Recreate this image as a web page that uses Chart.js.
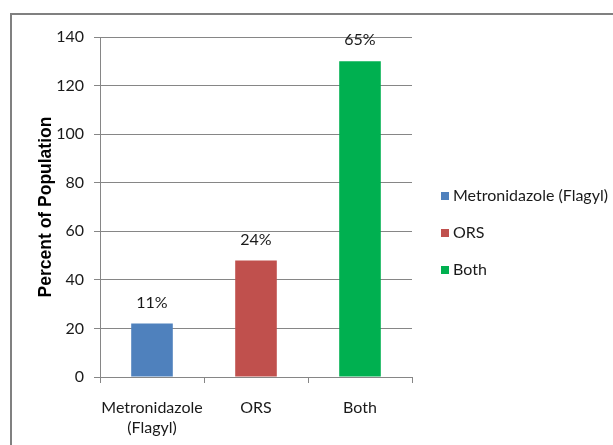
<!DOCTYPE html>
<html>
<head>
<meta charset="utf-8">
<script src="https://cdn.jsdelivr.net/npm/chart.js@4/dist/chart.umd.min.js"></script>
<style>
html,body{margin:0;padding:0;background:#fff;}
#wrap{position:relative;width:613px;height:445px;}
</style>
</head>
<body>
<div id="wrap"><canvas id="c" width="613" height="445"></canvas></div>
<script>
const categories = [['Metronidazole', '(Flagyl)'], 'ORS', 'Both'];
const seriesNames = ['Metronidazole (Flagyl)', 'ORS', 'Both'];
const seriesValues = [22, 48, 130];
const valueLabels = ['11%', '24%', '65%'];
const yTicks = [0, 20, 40, 60, 80, 100, 120, 140];
const colors = ['#4F81BD', '#C0504D', '#00B050'];

const FONT = 'Lato, "Open Sans", sans-serif';
const TITLE_FONT = '"Liberation Sans", Arial, sans-serif';
const TEXT_COLOR = '#1a1a1a';

const datasets = seriesNames.map((name, i) => ({
  label: name,
  data: seriesValues.map((v, j) => (j === i ? v : null)),
  backgroundColor: colors[i],
  borderWidth: 0,
  grouped: false,
  barPercentage: 0.4,
  categoryPercentage: 1.0
}));

const frame = {
  id: 'frame',
  beforeDraw(chart) {
    const ctx = chart.ctx;
    ctx.save();
    ctx.fillStyle = '#fff';
    ctx.fillRect(0, 0, chart.width, chart.height);
    ctx.strokeStyle = '#808080';
    ctx.lineWidth = 2;
    ctx.strokeRect(11, 14, 800, 600);
    ctx.restore();
  }
};

const valueLabelPlugin = {
  id: 'valueLabels',
  afterDatasetsDraw(chart) {
    const ctx = chart.ctx;
    ctx.save();
    ctx.font = '16px ' + FONT;
    ctx.fillStyle = TEXT_COLOR;
    ctx.textAlign = 'center';
    ctx.textBaseline = 'middle';
    chart.data.datasets.forEach((ds, i) => {
      const meta = chart.getDatasetMeta(i);
      meta.data.forEach((el, j) => {
        if (ds.data[j] == null) return;
        ctx.fillText(valueLabels[j], el.x, el.y - 21);
      });
    });
    ctx.restore();
  }
};

const sideLegend = {
  id: 'sideLegend',
  afterDraw(chart) {
    const ctx = chart.ctx;
    const area = chart.chartArea;
    const x0 = area.right + 29;
    const yStart = 196;
    const step = 37;
    ctx.save();
    ctx.font = '16px ' + FONT;
    ctx.textBaseline = 'middle';
    ctx.textAlign = 'left';
    chart.data.datasets.forEach((ds, i) => {
      const y = yStart + i * step;
      ctx.fillStyle = ds.backgroundColor;
      ctx.fillRect(x0, y - 4, 8, 8);
      ctx.fillStyle = TEXT_COLOR;
      ctx.fillText(ds.label, x0 + 12, y);
    });
    ctx.restore();
  }
};

new Chart(document.getElementById('c'), {
  type: 'bar',
  data: { labels: categories, datasets },
  options: {
    responsive: false,
    animation: false,
    layout: { padding: { left: 36, top: 37, right: 201, bottom: 0 } },
    plugins: {
      legend: { display: false },
      tooltip: { enabled: false }
    },
    scales: {
      x: {
        grid: { display: true, drawOnChartArea: false, drawTicks: true, tickLength: 6, color: '#868686', offset: true },
        border: { display: true, color: '#868686' },
        ticks: { color: TEXT_COLOR, font: { family: FONT, size: 16, lineHeight: 1.3 }, padding: 14, maxRotation: 0, minRotation: 0, autoSkip: false },
        afterFit(scale) { scale.height = 68; }
      },
      y: {
        min: 0,
        max: 140,
        afterBuildTicks(scale) { scale.ticks = yTicks.map(v => ({ value: v })); },
        grid: { color: '#868686', tickLength: 6 },
        border: { display: true, color: '#868686' },
        ticks: { color: TEXT_COLOR, font: { family: FONT, size: 16 }, padding: 10 },
        title: {
          display: true,
          text: 'Percent of Population',
          color: '#000',
          font: { family: TITLE_FONT, size: 17.5, weight: 'bold' },
          padding: { top: 0, bottom: 4 }
        },
        afterFit(scale) { scale.width = 64; }
      }
    }
  },
  plugins: [frame, valueLabelPlugin, sideLegend]
});
</script>
</body>
</html>
